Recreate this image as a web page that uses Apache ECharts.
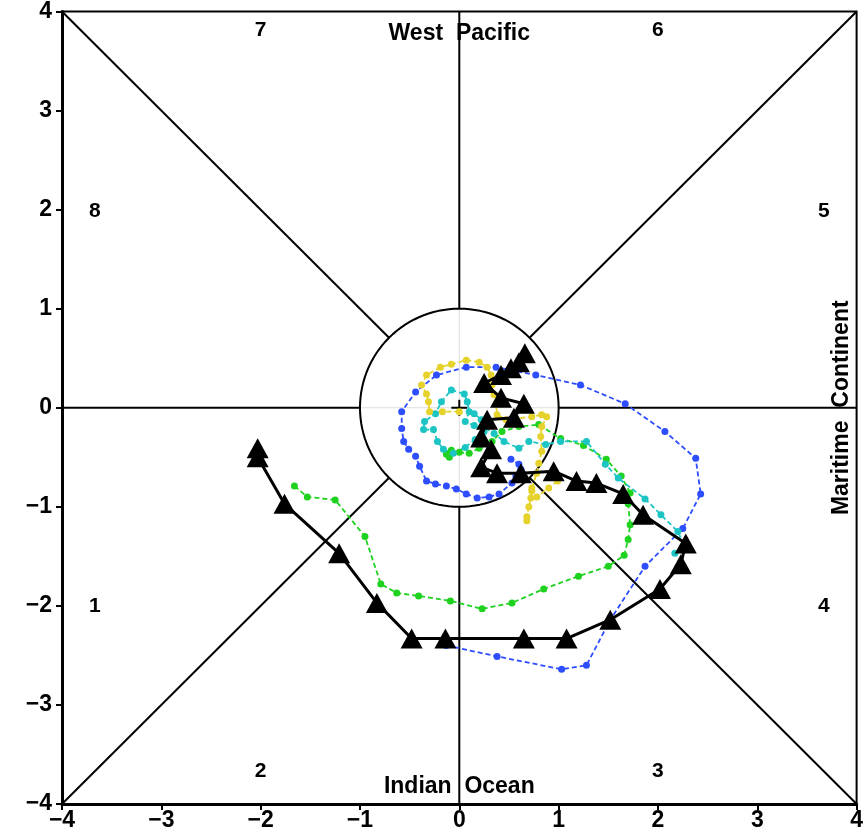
<!DOCTYPE html>
<html>
<head>
<meta charset="utf-8">
<script src="https://cdn.jsdelivr.net/npm/echarts@6/dist/echarts.min.js"></script>
<style>
  html, body { margin: 0; padding: 0; background: #fff; }
  #chart { width: 866px; height: 839px; }
</style>
</head>
<body>
<div id="chart"></div>
<script>
// RMM1 / RMM2 trajectories, one array per track: [RMM1, RMM2]
const blackTrack = [
  [-2.03, -0.41], [-2.03, -0.50], [-1.76, -0.97], [-1.21, -1.47], [-0.83, -1.97],
  [-0.48, -2.33], [-0.14, -2.33], [0.65, -2.33], [1.08, -2.33], [1.52, -2.14],
  [2.02, -1.83], [2.23, -1.58], [2.28, -1.37], [1.85, -1.08], [1.65, -0.87],
  [1.38, -0.76], [1.18, -0.74], [0.95, -0.64], [0.62, -0.66], [0.38, -0.66],
  [0.22, -0.60], [0.32, -0.42], [0.22, -0.30], [0.28, -0.12], [0.55, -0.10],
  [0.65, 0.04], [0.42, 0.10], [0.25, 0.25], [0.42, 0.33], [0.52, 0.40],
  [0.60, 0.46], [0.66, 0.55]
];

const blueTrack = [
  [-0.13, -2.40], [0.38, -2.51], [1.03, -2.64], [1.28, -2.60], [1.52, -2.14],
  [1.87, -1.60], [2.25, -1.22], [2.43, -0.87], [2.38, -0.51], [2.07, -0.24],
  [1.67, 0.04], [1.22, 0.23], [0.77, 0.33], [0.37, 0.41], [0.07, 0.41],
  [-0.23, 0.33], [-0.44, 0.16], [-0.58, -0.04], [-0.58, -0.21], [-0.56, -0.34],
  [-0.51, -0.42], [-0.44, -0.49], [-0.40, -0.59], [-0.33, -0.74], [-0.24, -0.77],
  [-0.13, -0.79], [-0.03, -0.82], [0.07, -0.87], [0.18, -0.91], [0.30, -0.90],
  [0.40, -0.87], [0.53, -0.76], [0.57, -0.69], [0.62, -0.62], [0.60, -0.57],
  [0.52, -0.52]
];

const greenTrack = [
  [-1.66, -0.79], [-1.53, -0.90], [-1.25, -0.93], [-0.95, -1.30], [-0.79, -1.78],
  [-0.63, -1.87], [-0.41, -1.90], [-0.09, -1.95], [0.23, -2.03], [0.53, -1.97],
  [0.85, -1.83], [1.20, -1.70], [1.50, -1.60], [1.66, -1.49], [1.70, -1.33],
  [1.72, -1.18], [1.70, -0.97], [1.72, -0.86], [1.63, -0.69], [1.48, -0.52],
  [1.25, -0.38], [1.02, -0.31], [0.80, -0.17], [0.60, -0.19], [0.43, -0.24],
  [0.33, -0.34], [0.20, -0.41], [0.10, -0.46], [0.00, -0.45], [-0.08, -0.43],
  [-0.13, -0.47], [-0.10, -0.50]
];

const cyanTrack = [
  [2.17, -1.47], [2.28, -1.42], [2.20, -1.25], [2.03, -1.08], [1.87, -0.92],
  [1.60, -0.71], [1.47, -0.57], [1.28, -0.34], [1.02, -0.34], [0.87, -0.37],
  [0.70, -0.34], [0.60, -0.41], [0.45, -0.34], [0.35, -0.26], [0.25, -0.20],
  [0.15, -0.18], [0.06, -0.14], [0.10, -0.04], [0.08, 0.06], [0.05, 0.14],
  [-0.08, 0.18], [-0.18, 0.06], [-0.24, -0.06], [-0.35, -0.14], [-0.36, -0.22],
  [-0.26, -0.22], [-0.22, -0.34], [-0.16, -0.42], [-0.06, -0.46], [0.06, -0.40],
  [0.16, -0.32], [0.25, -0.24], [0.22, -0.12], [0.15, -0.06]
];

const yellowTail = [
  [0.99, -0.74], [0.90, -0.81], [0.78, -0.90], [0.73, -0.84]
];

const yellowTrack = [
  [0.00, -0.04], [-0.17, -0.04], [-0.30, -0.04], [-0.31, 0.06], [-0.33, 0.14],
  [-0.38, 0.23], [-0.33, 0.33], [-0.19, 0.41], [-0.08, 0.44], [0.07, 0.48],
  [0.20, 0.46], [0.28, 0.41], [0.32, 0.33], [0.33, 0.23], [0.35, 0.13],
  [0.37, 0.04], [0.38, -0.07], [0.47, -0.12], [0.57, -0.11], [0.73, -0.09],
  [0.83, -0.07], [0.88, -0.09], [0.83, -0.19], [0.82, -0.29], [0.83, -0.44],
  [0.80, -0.56], [0.78, -0.66], [0.73, -0.81], [0.72, -0.91], [0.70, -1.00],
  [0.68, -1.10], [0.68, -1.14]
];

// Axis ticks and the phase / region annotations
const tickValues = [-4, -3, -2, -1, 0, 1, 2, 3, 4];
const phaseLabels = [
  { text: '1', pos: [-3.67, -2.0] }, { text: '2', pos: [-2.0, -3.67] },
  { text: '3', pos: [2.0, -3.67] },  { text: '4', pos: [3.67, -2.0] },
  { text: '5', pos: [3.67, 1.98] },  { text: '6', pos: [2.0, 3.81] },
  { text: '7', pos: [-2.0, 3.81] },  { text: '8', pos: [-3.67, 1.98] }
];
const regionLabels = [
  { text: 'West  Pacific', pos: [0, 3.78], rotate: 0 },
  { text: 'Indian  Ocean', pos: [0, -3.82], rotate: 0 },
  { text: 'Maritime  Continent', pos: [3.85, 0], rotate: 90 }
];

// Phase-diagram guides: diagonals and axes outside the unit circle
const r45 = Math.SQRT1_2;
const guideSegments = [
  [[-4, -4], [-r45, -r45]], [[r45, r45], [4, 4]],
  [[-4, 4], [-r45, r45]], [[r45, -r45], [4, -4]],
  [[-4, 0], [-1, 0]], [[1, 0], [4, 0]],
  [[0, 4], [0, 1]], [[0, -1], [0, -4]]
];
const faintSegments = [[[-1, 0], [1, 0]], [[0, -1], [0, 1]]];
const crossSegments = [[[-0.08, 0], [0.08, 0]], [[0, -0.08], [0, 0.08]]];

const unitCircle = [];
for (let a = 0; a <= 360; a += 3) {
  const t = a * Math.PI / 180;
  unitCircle.push([Math.cos(t), Math.sin(t)]);
}

function segSeries(segs, color, width, z) {
  return segs.map(s => ({
    type: 'line', data: s, symbol: 'none', silent: true, z: z,
    lineStyle: { color: color, width: width }, animation: false
  }));
}

function dotTrack(data, color) {
  return {
    type: 'line', data: data, symbol: 'circle', symbolSize: 7, z: 5,
    itemStyle: { color: color },
    lineStyle: { color: color, width: 1.8, type: [5, 3] },
    animation: false
  };
}

const tickFmt = v => String(v).replace('-', '\u2212');

function textSeries(items, size) {
  return {
    type: 'scatter', symbolSize: 1, z: 9, silent: true, animation: false,
    itemStyle: { color: 'transparent', opacity: 1 },
    data: items.map(p => ({ value: p.pos, name: p.text,
      label: { rotate: p.rotate || 0 } })),
    label: { show: true, position: 'inside', formatter: p => p.name,
             color: '#000', opacity: 1, fontSize: size,
             fontFamily: 'Liberation Sans', fontWeight: 'bold' }
  };
}

const series = [].concat(
  segSeries(faintSegments, '#dddddd', 1, 1),
  segSeries(guideSegments, '#000', 2, 2),
  [{ type: 'line', data: unitCircle, symbol: 'none', silent: true, z: 2,
     lineStyle: { color: '#000', width: 2 }, animation: false }],
  segSeries(crossSegments, '#000', 2, 2),
  [
    dotTrack(blueTrack, '#2d4dff'),
    dotTrack(greenTrack, '#1fd21f'),
    dotTrack(cyanTrack, '#1cc4c4'),
    dotTrack(yellowTail, '#e6d22c'),
    dotTrack(yellowTrack, '#e6d22c'),
    {
      type: 'line', data: blackTrack, symbol: 'triangle', symbolSize: [22, 20], z: 8,
      itemStyle: { color: '#000' }, lineStyle: { color: '#000', width: 3 },
      animation: false
    },
    textSeries(phaseLabels, 21),
    textSeries(regionLabels, 23)
  ]
);

const axisCommon = {
  type: 'value', min: -4, max: 4, interval: 1,
  splitLine: { show: false },
  axisLine: { onZero: false, lineStyle: { color: '#000', width: 3 } },
  axisTick: { show: true, inside: false, length: 6, lineStyle: { color: '#000', width: 2 } },
  axisLabel: { color: '#000', fontSize: 23, fontWeight: 'bold',
               fontFamily: 'Liberation Sans', formatter: tickFmt }
};

const chart = echarts.init(document.getElementById('chart'));
chart.setOption({
  backgroundColor: '#fff',
  grid: { left: 62, right: 7, top: 8, bottom: 35, show: true,
          borderColor: '#000', borderWidth: 2, backgroundColor: 'transparent' },
  xAxis: Object.assign({}, axisCommon, {
    axisLabel: Object.assign({}, axisCommon.axisLabel, { margin: 5 })
  }),
  yAxis: Object.assign({}, axisCommon, {
    axisLabel: Object.assign({}, axisCommon.axisLabel, { margin: 10 })
  }),
  series: series
});
</script>
</body>
</html>
